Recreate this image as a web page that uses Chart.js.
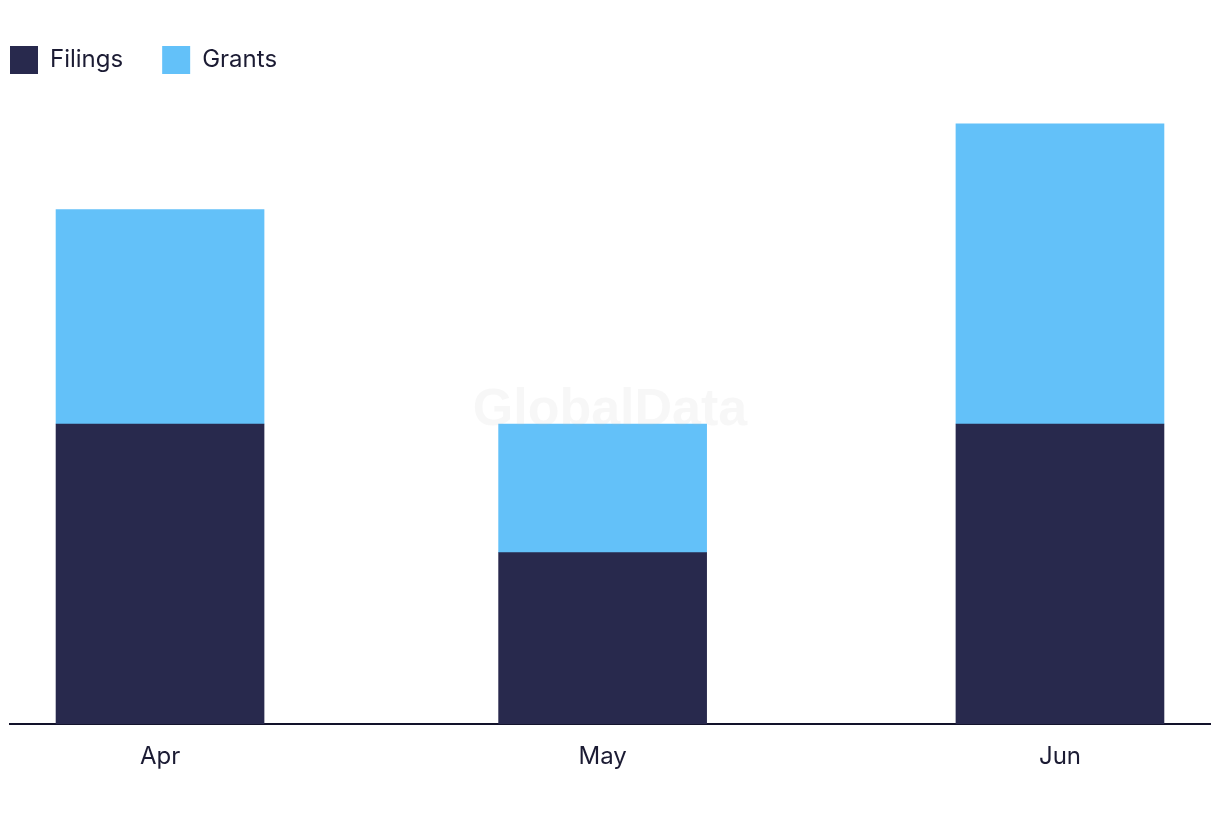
<!DOCTYPE html>
<html>
<head>
<meta charset="utf-8">
<script src="https://cdn.jsdelivr.net/npm/chart.js@4.4.1/dist/chart.umd.min.js"></script>
<style>
  html,body{margin:0;padding:0;background:#fff;}
  #wrap{width:1220px;height:822px;}
</style>
</head>
<body>
<div id="wrap"><canvas id="chart"></canvas></div>
<script>
// month start dates (bars are placed on a day axis, like a time scale)
let months=["2024-04-01","2024-05-01","2024-06-01"];
let tickLabels=["Apr","May","Jun"];
let filings=[7,4,7];
let grants=[5,3,7];

let base=Date.UTC(2024,3,1);
let days=months.map(function(m){
    let p=m.split("-");
    return (Date.UTC(+p[0],+p[1]-1,+p[2])-base)/86400000;
});

function pts(vals){
    return vals.map(function(v,i){ return {x:days[i],y:v}; });
}

let watermark={
    id:"watermark",
    afterDatasetsDraw:function(c){
        let ctx=c.ctx;
        ctx.save();
        ctx.font="bold 52px 'Liberation Sans', Arial, sans-serif";
        ctx.fillStyle="rgba(190,190,190,0.12)";
        ctx.textAlign="center";
        ctx.textBaseline="middle";
        ctx.fillText("GlobalData",610,411);
        ctx.restore();
    }
};

let chart;

window.onload=function(){

    let ctx=document.getElementById("chart");

    chart=new Chart(ctx,{
        type:"bar",
        data:{
            datasets:[
                {label:"Filings",data:pts(filings),backgroundColor:"#28294d",barThickness:208},
                {label:"Grants",data:pts(grants),backgroundColor:"#63c1f9",barThickness:208}
            ]
        },
        options:{
            responsive:true,
            maintainAspectRatio:false,
            animation:false,
            layout:{padding:{top:7,left:-29,right:10,bottom:41}},
            plugins:{
                legend:{
                    position:"top",
                    align:"start",
                    labels:{
                        boxWidth:28,
                        boxHeight:28,
                        padding:39,
                        color:"#1b1b33",
                        font:{family:"Inter, 'Noto Sans', sans-serif",size:24}
                    }
                },
                tooltip:{enabled:false}
            },
            scales:{
                x:{
                    type:"linear",
                    stacked:true,
                    min:-10.17,
                    max:71.17,
                    offset:false,
                    grid:{display:false},
                    border:{display:true,color:"#12122a",width:2},
                    afterBuildTicks:function(s){
                        s.ticks=days.map(function(d){ return {value:d}; });
                    },
                    ticks:{
                        padding:10,
                        maxRotation:0,
                        autoSkip:false,
                        color:"#1b1b33",
                        font:{family:"Inter, 'Noto Sans', sans-serif",size:24},
                        callback:function(v,i){ return tickLabels[i]; }
                    }
                },
                y:{
                    stacked:true,
                    min:0,
                    max:14.93,
                    grid:{display:false},
                    border:{display:false},
                    ticks:{display:false},
                    afterFit:function(s){ s.width=39; }
                }
            }
        },
        plugins:[watermark]
    });
}
</script>
</body>
</html>
